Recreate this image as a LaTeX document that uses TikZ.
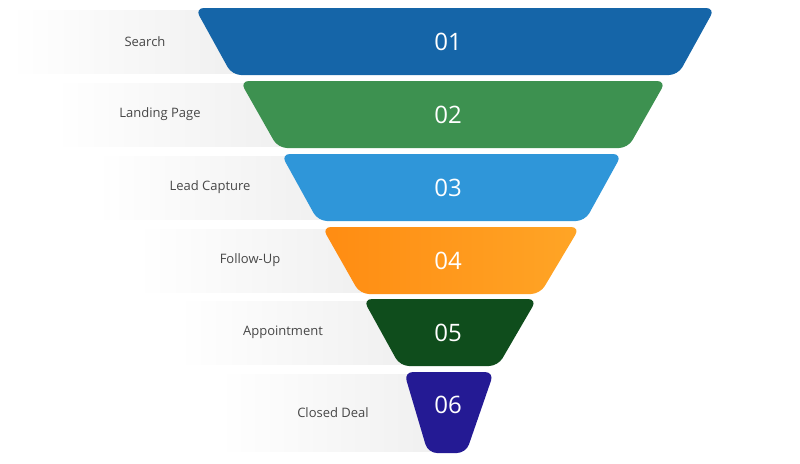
\documentclass[tikz,border=0pt]{standalone}
\usepackage{fontspec}
\setmainfont{Open Sans}
\begin{document}
\begin{tikzpicture}[x=1pt,y=-1pt,
  band/.style={left color=white,right color=gray!12,draw=none},
  lab/.style={font=\fontsize{13}{15}\selectfont,text=black!72},
  num/.style={font=\fontsize{24}{28}\selectfont,text=white}]
\useasboundingbox (0,0) rectangle (800,463);
\definecolor{c1}{HTML}{1565A8}\definecolor{c2}{HTML}{3D9150}
\definecolor{c3}{HTML}{2F96D9}\definecolor{c4}{HTML}{FF8C12}
\definecolor{c4b}{HTML}{FFA526}
\definecolor{c5}{HTML}{0F4D1C}\definecolor{c6}{HTML}{241A94}
\foreach \tl/\tr/\bl/\br/\ya/\yb/\c/\n/\t/\lx [count=\i] in {
 195/715/232/678/8/75/c1/01/Search/145,
 240/666/278/628/81/148/c2/02/Landing Page/160,
 281/622/318/585/154/221/c3/03/Lead Capture/210,
 322/580/360/540/227/294/c4/04/Follow-Up/250,
 363/537/400/498/299/366/c5/05/Appointment/283,
 404/494/428/466/372/453/c6/06/Closed Deal/333}{
  \fill[band] (\tl-185,\ya+2) rectangle (\bl+10,\yb-2);
  \node[lab] (l\i) at (\lx,{(\ya+\yb)/2}) {\t};
  \ifnum\i=4
   \path[left color=c4,right color=c4b,rounded corners=9pt]
    (\tl,\ya) -- (\tr,\ya) -- (\br,\yb) -- (\bl,\yb) -- cycle;
  \else
   \fill[\c,rounded corners=9pt]
    (\tl,\ya) -- (\tr,\ya) -- (\br,\yb) -- (\bl,\yb) -- cycle;
  \fi
  \node[num] (n\i) at (448,{(\ya+\yb)/2-(\i==6 ? 8 : 0)}) {\n};
}
\end{tikzpicture}
\end{document}
